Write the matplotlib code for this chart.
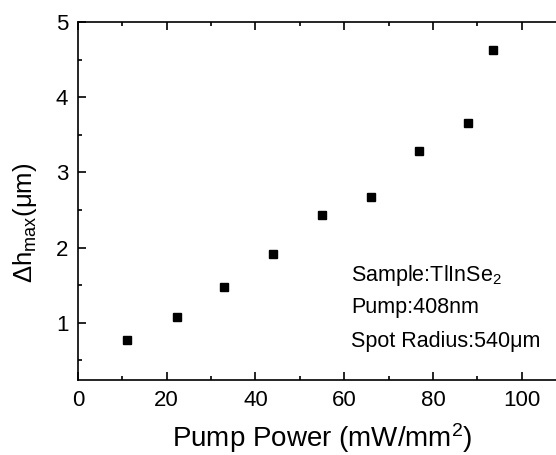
import matplotlib
matplotlib.use("Agg")
import matplotlib.pyplot as plt
from matplotlib.ticker import MultipleLocator

plt.rcParams['font.family'] = ['Liberation Sans', 'DejaVu Sans']
plt.rcParams['mathtext.fontset'] = 'custom'
plt.rcParams['mathtext.rm'] = 'Liberation Sans'
plt.rcParams['mathtext.it'] = 'Liberation Sans'
plt.rcParams['mathtext.default'] = 'regular'

pump_power = [11.0, 22.3, 32.9, 43.9, 55.0, 66.0, 76.8, 87.8, 93.5]
delta_h = [0.775, 1.08, 1.48, 1.92, 2.43, 2.67, 3.28, 3.66, 4.63]

fig = plt.figure(figsize=(5.56, 4.55), dpi=100)
W, H = 556, 455
x0, x1 = 78, 566
y0, y1 = 380, 22
ax = fig.add_axes([x0 / W, 1 - y0 / H, (x1 - x0) / W, (y0 - y1) / H])

ax.plot(pump_power, delta_h, 's', color='black', markersize=5.8, clip_on=False)

ax.set_xlim(0, 110)
ax.set_ylim(0.24, 5.0)
ax.xaxis.set_major_locator(MultipleLocator(20))
ax.xaxis.set_minor_locator(MultipleLocator(10))
ax.yaxis.set_major_locator(MultipleLocator(1))
ax.yaxis.set_minor_locator(MultipleLocator(0.5))
ax.tick_params(which='both', direction='in', top=True, right=False, width=1.2)
ax.tick_params(which='major', length=6, labelsize=16, pad=7)
ax.tick_params(which='minor', length=3)
for s in ['left', 'bottom', 'top']:
    ax.spines[s].set_linewidth(1.2)
ax.spines['right'].set_visible(False)
ax.set_xticks([0, 20, 40, 60, 80, 100])
ax.set_yticks([1, 2, 3, 4, 5])

ax.set_xlabel('Pump Power (mW/mm$^2$)', fontsize=20, labelpad=7.5)
ax.set_ylabel(r'$\Delta$h$_{max}$(μm)', fontsize=18.5)
ax.yaxis.set_label_coords(-0.08, 0.44)

tx = 0.559
ax.text(tx, 0.2765, 'Sample:TlInSe$_2$', transform=ax.transAxes, fontsize=15.5, va='baseline')
ax.text(tx, 0.187, 'Pump:408nm', transform=ax.transAxes, fontsize=15.5, va='baseline')
ax.text(tx, 0.092, 'Spot Radius:540μm', transform=ax.transAxes, fontsize=15.5, va='baseline')

fig.savefig('out.png', dpi=100)
